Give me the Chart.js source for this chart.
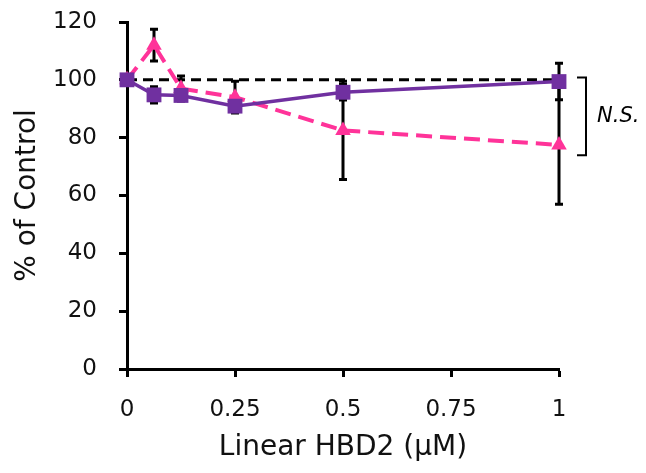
<!DOCTYPE html>
<html>
<head>
<meta charset="utf-8">
<script src="https://cdn.jsdelivr.net/npm/chart.js@4"></script>
<style>
  body { margin: 0; background: #fff; }
  #wrap { width: 646px; height: 473px; }
</style>
</head>
<body>
<div id="wrap"><canvas id="hbdChart" width="646" height="473"></canvas></div>
<script>
const doses = [0, 0.0625, 0.125, 0.25, 0.5, 1];
const purpleVals = [100, 94.8, 94.6, 90.9, 95.7, 99.4];
const purpleErr = [0, 2.8, 1, 1.5, 2.7, 6.3];
const pinkVals = [100, 112, 97, 94, 82.5, 77.5];
const pinkErr = [0, 5.5, 4.3, 5.5, 17, 20.5];
const controlLine = [100, 100];
const controlX = [0, 1];
const xTicks = [0, 0.25, 0.5, 0.75, 1];
const xTickLabels = ['0', '0.25', '0.5', '0.75', '1'];
const bracketRange = [73.9, 100.8];
const bracketText = 'N.S.';

const FONT = '"DejaVu Sans", sans-serif';
const PURPLE = '#7030A0';
const PINK = '#FF3399';

const toPoints = (xs, ys) => xs.map((x, i) => ({ x: x, y: ys[i] }));

// error bars drawn under the markers
const errorBars = {
  id: 'errorBars',
  beforeDatasetsDraw(chart) {
    const { ctx, scales: { x, y } } = chart;
    ctx.save();
    ctx.strokeStyle = '#000';
    ctx.lineWidth = 3;
    chart.data.datasets.forEach(ds => {
      if (!ds.errors) return;
      ds.data.forEach((p, i) => {
        const e = ds.errors[i];
        if (!e) return;
        const px = x.getPixelForValue(p.x);
        const top = y.getPixelForValue(p.y + e);
        const bot = y.getPixelForValue(p.y - e);
        ctx.beginPath();
        ctx.moveTo(px, top); ctx.lineTo(px, bot);
        ctx.moveTo(px - 4, top); ctx.lineTo(px + 4, top);
        ctx.moveTo(px - 4, bot); ctx.lineTo(px + 4, bot);
        ctx.stroke();
      });
    });
    ctx.restore();
  }
};

const bracket = {
  id: 'bracket',
  afterDraw(chart) {
    const { ctx, scales: { x, y } } = chart;
    const bx = x.getPixelForValue(1) + 27;
    const top = y.getPixelForValue(bracketRange[1]);
    const bot = y.getPixelForValue(bracketRange[0]);
    ctx.save();
    ctx.strokeStyle = '#000';
    ctx.lineWidth = 2;
    ctx.beginPath();
    ctx.moveTo(bx - 9, top); ctx.lineTo(bx, top);
    ctx.lineTo(bx, bot); ctx.lineTo(bx - 9, bot);
    ctx.stroke();
    ctx.fillStyle = '#000';
    ctx.font = 'italic 21px ' + FONT;
    ctx.textBaseline = 'middle';
    ctx.fillText(bracketText, bx + 11, (top + bot) / 2);
    ctx.restore();
  }
};

new Chart(document.getElementById('hbdChart'), {
  type: 'line',
  data: {
    datasets: [
      {
        data: toPoints(doses, purpleVals),
        errors: purpleErr,
        borderColor: PURPLE,
        backgroundColor: PURPLE,
        borderWidth: 3.5,
        pointStyle: 'rect',
        pointRadius: 10.5,
        pointBorderWidth: 0,
        tension: 0,
        clip: false,
        order: 1
      },
      {
        data: toPoints(doses, pinkVals),
        errors: pinkErr,
        borderColor: PINK,
        backgroundColor: PINK,
        borderWidth: 4,
        borderDash: [16, 8],
        pointStyle: 'triangle',
        pointRadius: 9,
        pointBorderWidth: 0,
        tension: 0,
        clip: false,
        order: 2
      },
      {
        data: toPoints(controlX, controlLine),
        borderColor: '#000',
        borderWidth: 3,
        borderDash: [10, 6],
        pointRadius: 0,
        clip: false,
        order: 3
      }
    ]
  },
  options: {
    responsive: false,
    animation: false,
    layout: { padding: { left: 0, right: 87, top: 22, bottom: 0 } },
    plugins: { legend: { display: false }, tooltip: { enabled: false } },
    scales: {
      x: {
        type: 'linear',
        min: 0,
        max: 1,
        afterFit: s => { s.height = 104; },
        afterBuildTicks: s => { s.ticks = xTicks.map(v => ({ value: v })); },
        border: { color: '#000', width: 3 },
        grid: { drawOnChartArea: false, tickLength: 8, tickWidth: 3, tickColor: '#000' },
        ticks: {
          color: '#111',
          font: { family: FONT, size: 23 },
          padding: 19,
          autoSkip: false,
          maxRotation: 0,
          callback: v => xTickLabels[xTicks.indexOf(v)]
        },
        title: {
          display: true,
          text: 'Linear HBD2 (µM)',
          color: '#111',
          font: { family: FONT, size: 28 },
          padding: { top: 0, bottom: 8 }
        }
      },
      y: {
        min: 0,
        max: 120,
        afterFit: s => { s.width = 127; s.paddingTop = 0; s.paddingBottom = 0; },
        border: { color: '#000', width: 3 },
        grid: { drawOnChartArea: false, tickLength: 8, tickWidth: 3, tickColor: '#000' },
        ticks: {
          stepSize: 20,
          color: '#111',
          font: { family: FONT, size: 23 },
          padding: 22
        },
        title: {
          display: true,
          text: '% of Control',
          color: '#111',
          font: { family: FONT, size: 28 },
          padding: { top: 11, bottom: 0 }
        }
      }
    }
  },
  plugins: [errorBars, bracket]
});
</script>
</body>
</html>
